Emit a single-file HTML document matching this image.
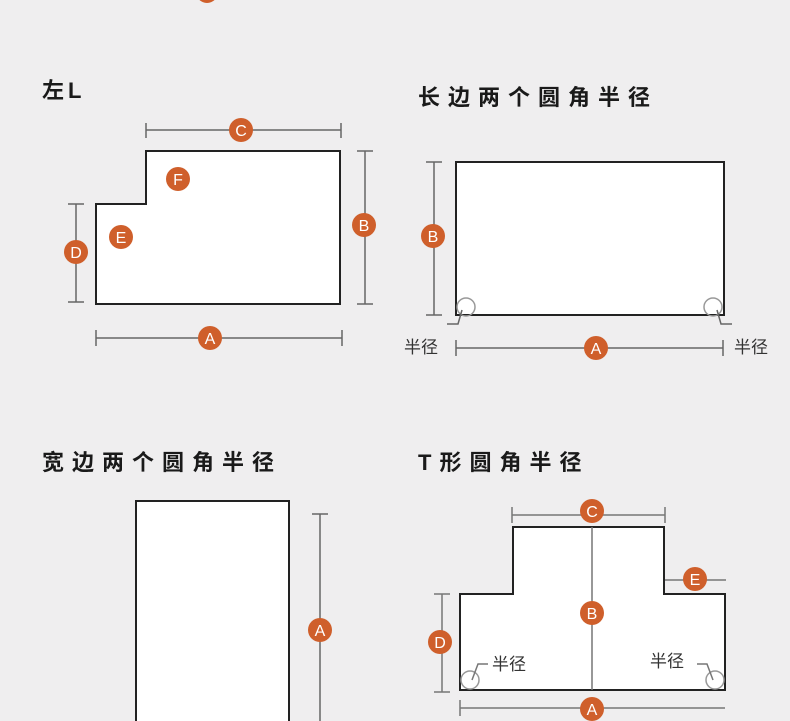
<!DOCTYPE html>
<html><head><meta charset="utf-8"><style>
html,body{margin:0;padding:0;background:#efeeef;}
svg{display:block}
text{font-family:"Liberation Sans","Noto Sans CJK SC",sans-serif;}
.t{font-size:22px;font-weight:bold;fill:#1a1a1a;letter-spacing:8px}
.b{fill:#fff;font-size:16px;text-anchor:middle}
.s{font-size:17px;fill:#333}
</style></head><body>
<svg width="790" height="721" viewBox="0 0 790 721" xmlns="http://www.w3.org/2000/svg">
<defs>
<g id="bd"><circle r="12" fill="#cf5f2b"/></g>
</defs>
<circle cx="207" cy="-8" r="11" fill="#cf5f2b"/>

<!-- Left L -->
<text x="42" y="98" class="t" style="letter-spacing:4px">左L</text>
<path d="M96,204 H146 V151 H340 V304 H96 Z" fill="#fff" stroke="#222" stroke-width="2"/>
<g stroke="#666" stroke-width="1.5" fill="none">
<path d="M146,130 H341 M146,123 V138 M341,123 V138"/>
<path d="M365,151 V304 M357,151 H373 M357,304 H373"/>
<path d="M76,204 V302 M68,204 H84 M68,302 H84"/>
<path d="M96,338 H342 M96,330 V346 M342,330 V346"/>
</g>
<g><use href="#bd" x="241" y="130"/><text x="241" y="136" class="b">C</text></g>
<g><use href="#bd" x="364" y="225"/><text x="364" y="231" class="b">B</text></g>
<g><use href="#bd" x="76" y="252"/><text x="76" y="258" class="b">D</text></g>
<g><use href="#bd" x="210" y="338"/><text x="210" y="344" class="b">A</text></g>
<g><use href="#bd" x="178" y="179"/><text x="178" y="185" class="b">F</text></g>
<g><use href="#bd" x="121" y="237"/><text x="121" y="243" class="b">E</text></g>

<!-- long side -->
<text x="418" y="105" class="t">长边两个圆角半径</text>
<rect x="456" y="162" width="268" height="153" fill="#fff" stroke="#222" stroke-width="2"/>
<g stroke="#666" stroke-width="1.5" fill="none">
<path d="M434,162 V315 M426,162 H442 M426,315 H442"/>
<path d="M456,348 H723 M456,340 V356 M723,340 V356"/>
<circle cx="466" cy="307" r="9" stroke="#999"/>
<circle cx="713" cy="307" r="9" stroke="#999"/>
<path d="M462,310 L458,324 H447 M717,310 L721,324 H732"/>
</g>
<g><use href="#bd" x="433" y="236"/><text x="433" y="242" class="b">B</text></g>
<g><use href="#bd" x="596" y="348"/><text x="596" y="354" class="b">A</text></g>
<text x="404" y="353" class="s">半径</text>
<text x="734" y="353" class="s">半径</text>

<!-- wide side -->
<text x="42" y="470" class="t">宽边两个圆角半径</text>
<rect x="136" y="501" width="153" height="240" fill="#fff" stroke="#222" stroke-width="2"/>
<g stroke="#666" stroke-width="1.5" fill="none">
<path d="M320,514 V721 M312,514 H328"/>
</g>
<g><use href="#bd" x="320" y="630"/><text x="320" y="636" class="b">A</text></g>

<!-- T -->
<text x="418" y="470" class="t">T形圆角半径</text>
<path d="M460,594 H513 V527 H664 V594 H725 V690 H460 Z" fill="#fff" stroke="#222" stroke-width="2"/>
<g stroke="#777" stroke-width="1.5" fill="none">
<path d="M592,527 V690"/>
<path d="M512,515 H665 M512,507 V523 M665,507 V523"/>
<path d="M665,580 H726"/>
<path d="M442,594 V692 M434,594 H450 M434,692 H450"/>
<path d="M460,708 H725 M460,700 V716"/>
<circle cx="470" cy="680" r="9" stroke="#999"/>
<circle cx="715" cy="680" r="9" stroke="#999"/>
<path d="M472,680 L478,664 H488 M713,680 L707,664 H697"/>
</g>
<g><use href="#bd" x="592" y="511"/><text x="592" y="517" class="b">C</text></g>
<g><use href="#bd" x="695" y="579"/><text x="695" y="585" class="b">E</text></g>
<g><use href="#bd" x="592" y="613"/><text x="592" y="619" class="b">B</text></g>
<g><use href="#bd" x="440" y="642"/><text x="440" y="648" class="b">D</text></g>
<g><use href="#bd" x="592" y="709"/><text x="592" y="715" class="b">A</text></g>
<text x="492" y="670" class="s">半径</text>
<text x="650" y="667" class="s">半径</text>
</svg>
</body></html>
